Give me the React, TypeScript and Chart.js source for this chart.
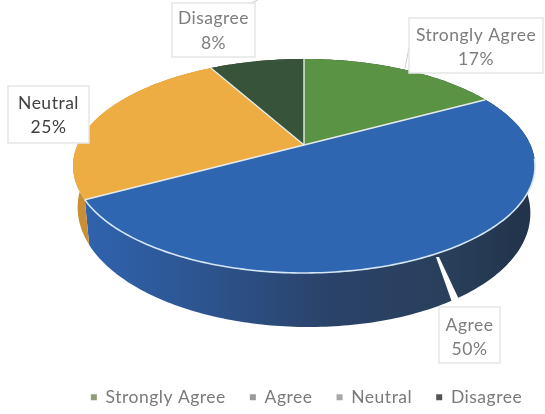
import React, { useEffect, useRef } from "react";
import { Chart, registerables } from "chart.js";

Chart.register(...registerables);

const categories = ["Strongly Agree", "Agree", "Neutral", "Disagree"];
const shares = [17, 50, 25, 8];
const sliceColors = ["#5b9345", "#2f66b1", "#edad42", "#37533a"];
const legendColors = ["#8f9d78", "#9a9a9a", "#a8a8a8", "#555555"];
const labelColors = ["#7d7d7d", "#7d7d7d", "#404040", "#7d7d7d"];

const FONT = "Lato, 'Open Sans', sans-serif";
const TRACKING = "0.5px";

// projection of the flat pie into a tilted disc
const CX = 304, CY = 145, K = 0.196, RX = 226.5, RY = 102.9;
const project = (a: number) => {
  const u = Math.cos(a), v = Math.sin(a), w = 1 - K * v;
  return { x: CX + (RX * u) / w, y: CY + (RY * v) / w, v, u };
};
const projectBase = (a: number) => {
  const p = project(a);
  return { x: CX + (p.x - CX) * 0.98, y: p.y + 42 + 12 * p.v + 3 * p.u };
};

const arcSamples = (s: number, e: number) => {
  const n = Math.max(8, Math.ceil((e - s) * 60));
  const out: number[] = [];
  for (let i = 0; i <= n; i++) out.push(s + ((e - s) * i) / n);
  return out;
};

const tracking = {
  id: "tracking",
  beforeUpdate(chart: any) {
    chart.ctx.letterSpacing = TRACKING;
  },
  beforeDraw(chart: any) {
    chart.ctx.letterSpacing = TRACKING;
  },
};

const disc3d = {
  id: "disc3d",
  beforeDatasetDraw(chart: any) {
    const { ctx } = chart;
    const arcs = chart.getDatasetMeta(0).data as any[];
    ctx.save();
    // walls
    arcs.forEach((arc, i) => {
      const pts = arcSamples(arc.startAngle, arc.endAngle);
      ctx.beginPath();
      pts.forEach((a, j) => {
        const p = project(a);
        j ? ctx.lineTo(p.x, p.y) : ctx.moveTo(p.x, p.y);
      });
      pts.slice().reverse().forEach((a) => {
        const p = projectBase(a);
        ctx.lineTo(p.x, p.y);
      });
      ctx.closePath();
      if (i === 1) {
        const g = ctx.createLinearGradient(90, 0, 530, 0);
        g.addColorStop(0, "#2f62ad");
        g.addColorStop(0.25, "#2d5590");
        g.addColorStop(0.55, "#2a4268");
        g.addColorStop(0.8, "#29405c");
        g.addColorStop(1, "#22334a");
        ctx.fillStyle = g;
      } else if (i === 2) {
        ctx.fillStyle = "#c98f35";
      } else {
        ctx.fillStyle = "#2b3f2c";
      }
      ctx.fill();
    });
    // top faces
    arcs.forEach((arc, i) => {
      ctx.beginPath();
      ctx.moveTo(CX, CY);
      arcSamples(arc.startAngle, arc.endAngle).forEach((a) => {
        const p = project(a);
        ctx.lineTo(p.x, p.y);
      });
      ctx.closePath();
      ctx.fillStyle = sliceColors[i];
      ctx.fill();
    });
    // spokes between slices
    ctx.strokeStyle = "#e6edea";
    ctx.lineWidth = 1.4;
    arcs.forEach((arc) => {
      const p = project(arc.startAngle);
      ctx.beginPath();
      ctx.moveTo(CX, CY);
      ctx.lineTo(p.x, p.y);
      ctx.stroke();
    });
    // pale rim on the front edge
    const front = arcs[1];
    ctx.strokeStyle = "#d5e6f5";
    ctx.lineWidth = 1.6;
    ctx.beginPath();
    arcSamples(front.startAngle, front.endAngle)
      .filter((a) => project(a).v > 0.12)
      .forEach((a, j) => {
        const p = project(a);
        j ? ctx.lineTo(p.x, p.y) : ctx.moveTo(p.x, p.y);
      });
    ctx.stroke();
    ctx.restore();
    return false;
  },
};

// call-out boxes, in category order: box left, top, right, bottom
const calloutBoxes = [
  [409, 18, 543, 73],
  [439, 307, 500, 363],
  [8, 86, 89, 143],
  [172, 3, 255, 57],
];
const calloutTextY = [
  [35, 59],
  [325, 349],
  [103, 127],
  [18, 43],
];

const callouts = {
  id: "callouts",
  afterDraw(chart: any) {
    const { ctx } = chart;
    ctx.save();
    // leaders
    ctx.fillStyle = "#ffffff";
    ctx.beginPath();
    ctx.moveTo(436, 257);
    ctx.lineTo(439, 257);
    ctx.lineTo(463, 308);
    ctx.lineTo(454, 308);
    ctx.closePath();
    ctx.fill();
    ctx.strokeStyle = "#cfcfcf";
    ctx.lineWidth = 1;
    ctx.beginPath();
    ctx.moveTo(409, 48);
    ctx.lineTo(405, 68);
    ctx.moveTo(251, 3);
    ctx.lineTo(258, 0);
    ctx.stroke();
    ctx.strokeStyle = "#ffffff";
    ctx.lineWidth = 3;
    ctx.beginPath();
    ctx.moveTo(88, 126);
    ctx.lineTo(80, 143);
    ctx.stroke();

    const total = shares.reduce((a, b) => a + b, 0);
    categories.forEach((name, i) => {
      const [l, t, r, b] = calloutBoxes[i];
      ctx.fillStyle = "#ffffff";
      ctx.fillRect(l, t, r - l, b - t);
      ctx.strokeStyle = "#e6e6e6";
      ctx.lineWidth = 1.5;
      ctx.strokeRect(l, t, r - l, b - t);
      ctx.fillStyle = labelColors[i];
      ctx.font = `17.5px ${FONT}`;
      ctx.textAlign = "center";
      ctx.textBaseline = "middle";
      const mid = (l + r) / 2;
      ctx.fillText(name, mid, calloutTextY[i][0]);
      ctx.fillText(`${Math.round((shares[i] / total) * 100)}%`, mid, calloutTextY[i][1]);
    });
    ctx.restore();
  },
};

export default function App() {
  const ref = useRef<HTMLCanvasElement>(null);
  useEffect(() => {
    const chart = new Chart(ref.current!, {
      type: "pie",
      data: {
        labels: categories,
        datasets: [{ data: shares, backgroundColor: sliceColors, borderWidth: 0 }],
      },
      options: {
        responsive: false,
        animation: false,
        layout: { padding: { left: 20, right: -48, bottom: -2 } },
        plugins: {
          tooltip: { enabled: false },
          legend: {
            position: "bottom",
            labels: {
              color: "#7a7a7a",
              font: { family: FONT, size: 17.5 },
              usePointStyle: true,
              pointStyle: "rect",
              boxWidth: 6,
              boxHeight: 6,
              padding: 24,
              generateLabels: () =>
                categories.map((text, i) => ({
                  text,
                  fillStyle: legendColors[i],
                  strokeStyle: legendColors[i],
                  fontColor: "#7a7a7a",
                  lineWidth: 0,
                  pointStyle: "rect",
                  hidden: false,
                  index: i,
                })),
            },
          },
        },
      },
      plugins: [tracking, disc3d, callouts],
    } as any);
    return () => chart.destroy();
  }, []);
  return (
    <div style={{ position: "absolute", left: 0, top: 0, width: 545, height: 414, background: "#fff" }}>
      <canvas ref={ref} width={545} height={414} style={{ display: "block" }} />
    </div>
  );
}
